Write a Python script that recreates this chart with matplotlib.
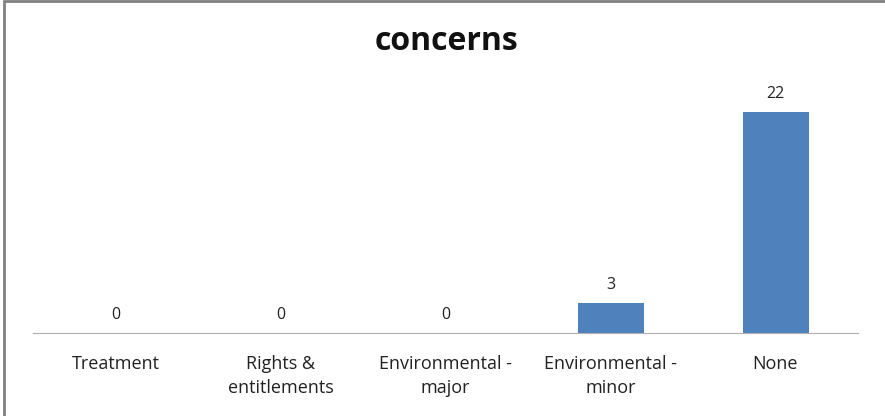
import matplotlib
matplotlib.use("Agg")
import matplotlib.pyplot as plt
from matplotlib.patches import Rectangle

# datos del grafico
categories = ["Treatment", "Rights &\nentitlements", "Environmental -\nmajor",
              "Environmental -\nminor", "None"]
values = [0, 0, 0, 3, 22]

plt.rcParams["font.family"] = ["Open Sans", "DejaVu Sans"]

fig = plt.figure(figsize=(8.85, 4.16), dpi=100)
ax = fig.add_axes([33 / 885, 83 / 416, 825 / 885, 253 / 416])

x = range(len(categories))
bars = ax.bar(x, values, width=0.4, color="#4F81BD")
ax.set_xlim(-0.5, len(categories) - 0.5)
ax.set_ylim(0, 25.2)

for xi, v in zip(x, values):
    ax.annotate(str(v), (xi, v), xytext=(0, 7), textcoords="offset points",
                ha="center", va="bottom", fontsize=11.5, color="#222222")

ax.set_xticks(list(x))
ax.set_xticklabels(categories, fontsize=13, color="#222222", linespacing=1.4)
ax.tick_params(axis="x", length=0, pad=16)
ax.set_yticks([])
for s in ["top", "right", "left"]:
    ax.spines[s].set_visible(False)
ax.spines["bottom"].set_color("#B0B0B0")

fig.text(446 / 885, 1 - 42 / 416, "concerns", ha="center", va="center",
         fontsize=23, fontweight="bold", color="#111111")

# borde del area del grafico
fig.patches.append(Rectangle((4 / 885, -0.05), 1.1, 1.05 - 1.5 / 416,
                             transform=fig.transFigure, fill=False,
                             edgecolor="#808080", linewidth=2))

fig.savefig("out.png", dpi=100)
